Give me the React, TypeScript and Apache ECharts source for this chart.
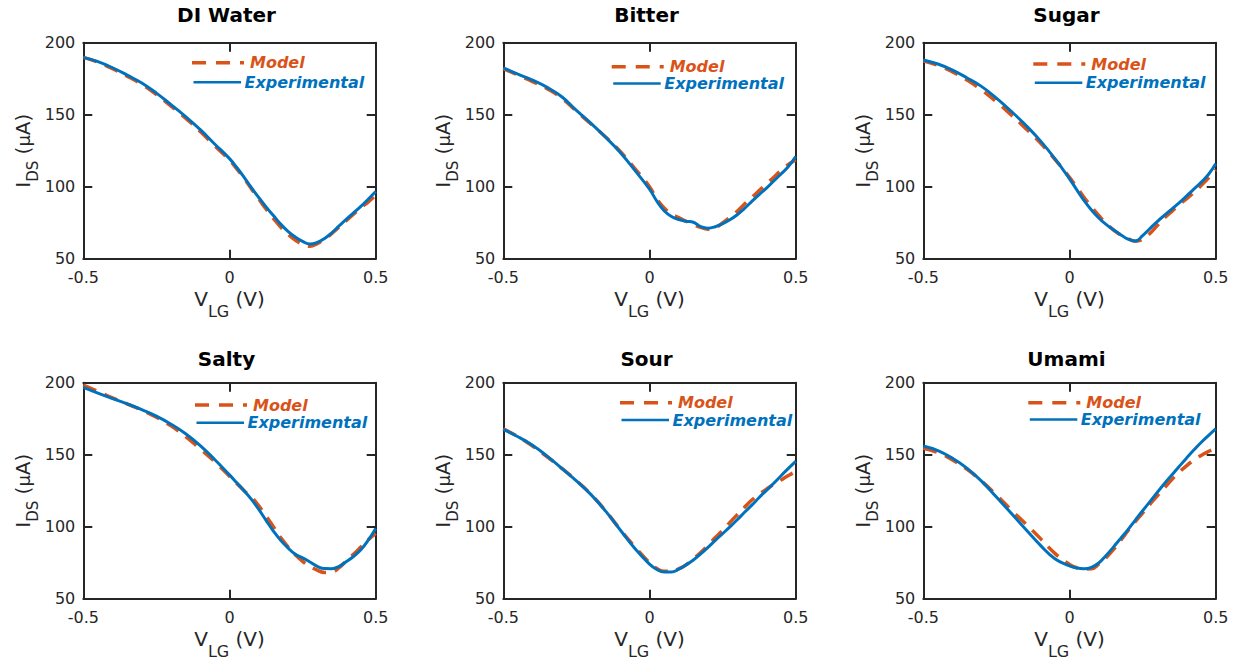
import React, { useEffect, useRef } from 'react';
import * as echarts from 'echarts';

// ---- data ----
const vlg = [-0.5, -0.45, -0.4, -0.35, -0.3, -0.25, -0.2, -0.15, -0.1, -0.05, 0, 0.025, 0.05, 0.075, 0.1, 0.125, 0.15, 0.175, 0.2, 0.225, 0.25, 0.275, 0.3, 0.325, 0.35, 0.375, 0.4, 0.425, 0.45, 0.475, 0.5];

const panelTitles = ['DI Water', 'Bitter', 'Sugar', 'Salty', 'Sour', 'Umami'];

const modelDIWater = [189.8, 186.5, 182, 176.8, 171, 164, 156, 147.5, 138.3, 128.3, 118.5, 112.3, 105.8, 98.5, 91.5, 84.5, 78, 72, 67, 63, 59.8, 58.6, 60.5, 63.5, 67.5, 72, 76.5, 81, 85.5, 89.5, 94];
const expDIWater = [189.8, 186.8, 182.6, 177.5, 172, 165, 157, 148.7, 139.6, 129.5, 119.5, 113.3, 106.5, 99.3, 92.5, 86, 80, 74, 69, 65, 62, 60.2, 61.3, 64, 68, 72.8, 77.5, 82, 86.5, 91.5, 96.7];

const modelBitter = [182, 177.5, 173, 168, 161.5, 152.5, 143.5, 134.5, 124.5, 112.5, 100, 91.5, 85.2, 81, 78.5, 76, 73.8, 71.8, 70.5, 71.5, 74.8, 78.8, 83, 88, 92.5, 97.3, 102, 106.5, 111.5, 115.5, 118.8];
const expBitter = [182.5, 178.2, 174, 169, 162.5, 153, 144, 134.3, 123.8, 111.3, 98.3, 90, 83.3, 79.3, 77.2, 76, 75.3, 72.3, 71.2, 72.2, 74.3, 77, 80.5, 85, 89.8, 94.5, 99, 104, 108.8, 114, 121];

const modelSugar = [187.5, 184.3, 179.7, 174, 167, 159, 150, 140.5, 130.5, 119, 106.5, 99.5, 92.5, 86, 80, 74.5, 70, 66.5, 64, 62.2, 63.5, 67.5, 73, 78.3, 82.8, 87.5, 91.5, 96, 100.8, 106, 111.9];
const expSugar = [188, 185.2, 181, 175.5, 169.5, 161.5, 152.5, 142.8, 132, 119.5, 105.5, 97.8, 90.3, 83.8, 78.3, 73.8, 70.1, 66.7, 63.6, 62.3, 66, 71, 75.8, 80.2, 84.5, 88.8, 93.5, 98.3, 103, 108.5, 116];

const modelSalty = [198.4, 194, 189.5, 185.3, 181, 176, 170, 162.5, 154, 145, 135, 130, 125, 120.5, 114.5, 107.5, 100, 92.5, 86, 80.5, 76, 72.5, 69.8, 68.2, 68.5, 71.5, 76.5, 81, 86, 91, 95.3];
const expSalty = [196.8, 192.8, 189, 185.3, 181.3, 176.8, 171.2, 164.6, 156.3, 146.5, 136, 130.5, 125, 119, 112, 104.4, 97, 90.5, 85.3, 80.8, 78.4, 75.5, 72.5, 70.9, 70.8, 72.5, 75.8, 79.5, 84.2, 90.8, 98.8];

const modelSour = [168, 162.5, 156, 148.5, 140.5, 132, 122.5, 111, 98, 86, 75, 71, 69, 69, 70.8, 73.5, 77.7, 82, 87, 92.5, 97.5, 103, 108.3, 113.5, 118.5, 122.5, 126, 129.5, 132.5, 135.5, 138.4];
const expSour = [167.6, 162.5, 156.5, 149, 140.5, 131.8, 122.3, 110.8, 97.7, 84.8, 74, 70.3, 68.5, 68.5, 70.5, 73.5, 76.9, 81.1, 85.7, 90.5, 95.2, 99.9, 104.8, 110, 115, 120.3, 125.2, 130.2, 135.4, 140.5, 145.4];

const modelUmami = [154.4, 151.5, 146.3, 139.8, 131.5, 122, 111.8, 102, 91.9, 81.5, 73.8, 71.5, 70.7, 70.8, 74, 78.5, 84, 90.5, 97.2, 103.5, 109.5, 115.5, 121.5, 127, 132.7, 137.8, 142.3, 146.2, 149.5, 152.2, 154.7];
const expUmami = [156, 152.8, 147.5, 140.5, 131.5, 120.6, 109.5, 98.2, 87.2, 77.8, 72.8, 71.3, 70.8, 71.8, 74.8, 80, 85.8, 91.9, 98, 104.6, 111.1, 117.4, 123.8, 130, 135.9, 141.8, 147.6, 153.2, 158.5, 163.3, 167.9];

const modelSeries = [modelDIWater, modelBitter, modelSugar, modelSalty, modelSour, modelUmami];
const expSeries = [expDIWater, expBitter, expSugar, expSalty, expSour, expUmami];

const xTicks = [-0.5, 0, 0.5];
const yTicks = [50, 100, 150, 200];
const legendNames = ['Model', 'Experimental'];

// ---- layout / style ----
const FONT = '"DejaVu Sans", "Liberation Sans", sans-serif';
const AXIS_COLOR = '#262626';
const MODEL_COLOR = '#D95319';
const EXP_COLOR = '#0072BD';
const GRID_LEFT = [83.3, 503.3, 923.3];
const GRID_TOP = [42.7, 382.7];
const GRID_W = 292.4;
const GRID_H = 216;
const TITLE_Y = [15, 359];
// [dashed line x start, dashed line y, offset to experimental row]
const LEGEND_POS = [
  [192, 62.7, 19.5],
  [611.7, 66.7, 16.8],
  [1033.3, 64, 18.7],
  [195, 405, 17.7],
  [620, 402.7, 17.3],
  [1028.3, 402.7, 16.8],
];

export default function App() {
  const ref = useRef<HTMLDivElement>(null);

  useEffect(() => {
    if (!ref.current) return;
    const chart = echarts.init(ref.current, null, { renderer: 'svg' });

    const grids: any[] = [];
    const xAxes: any[] = [];
    const yAxes: any[] = [];
    const series: any[] = [];
    const graphics: any[] = [];

    const axisLine = { show: true, onZero: false, lineStyle: { color: AXIS_COLOR, width: 2 } };
    const axisTick = { show: true, inside: true, length: 9, lineStyle: { color: AXIS_COLOR, width: 2 } };
    const xMin = xTicks[0];
    const xMax = xTicks[xTicks.length - 1];
    const xInt = xTicks[1] - xTicks[0];
    const yMin = yTicks[0];
    const yMax = yTicks[yTicks.length - 1];
    const yInt = yTicks[1] - yTicks[0];

    const xRich = {
      n: { fontSize: 20, fontFamily: FONT, color: AXIS_COLOR, lineHeight: 22, verticalAlign: 'top' },
      s: { fontSize: 16, fontFamily: FONT, color: AXIS_COLOR, lineHeight: 22, verticalAlign: 'top', padding: [14.5, 0, 0, 0] },
    };
    const yRich = {
      n: { fontSize: 20, fontFamily: FONT, color: AXIS_COLOR, lineHeight: 22, verticalAlign: 'top' },
      m: { fontSize: 18, fontFamily: FONT, color: AXIS_COLOR, lineHeight: 22, verticalAlign: 'top', padding: [1.5, 0, 0, 0] },
      s: { fontSize: 15, fontFamily: FONT, color: AXIS_COLOR, lineHeight: 22, verticalAlign: 'top', padding: [12.4, 0, 0, 0] },
    };

    panelTitles.forEach((title, i) => {
      const col = i % 3;
      const row = Math.floor(i / 3);
      const left = GRID_LEFT[col];
      const top = GRID_TOP[row];
      grids.push({ left, top, width: GRID_W, height: GRID_H, containLabel: false });

      xAxes.push({
        type: 'value', gridIndex: i, position: 'bottom', min: xMin, max: xMax, interval: xInt,
        axisLine, axisTick, splitLine: { show: false },
        axisLabel: { show: true, fontSize: 16, fontFamily: FONT, color: AXIS_COLOR, margin: 11 },
        name: '{n|V}{s|LG}{n| (V)}', nameLocation: 'middle', nameGap: 30.5,
        nameTextStyle: { rich: xRich },
      });
      xAxes.push({
        type: 'value', gridIndex: i, position: 'top', min: xMin, max: xMax, interval: xInt,
        axisLine, axisTick, splitLine: { show: false }, axisLabel: { show: false },
      });
      yAxes.push({
        type: 'value', gridIndex: i, position: 'left', min: yMin, max: yMax, interval: yInt,
        axisLine, axisTick, splitLine: { show: false },
        axisLabel: { show: true, fontSize: 16, fontFamily: FONT, color: AXIS_COLOR, margin: 8 },
        name: '{n|I}{s|DS}{n| (}{m|μ}{n|A)}', nameLocation: 'middle', nameGap: 39,
        nameTextStyle: { rich: yRich },
      });
      yAxes.push({
        type: 'value', gridIndex: i, position: 'right', min: yMin, max: yMax, interval: yInt,
        axisLine, axisTick, splitLine: { show: false }, axisLabel: { show: false },
      });

      series.push({
        type: 'line', name: legendNames[0], xAxisIndex: 2 * i, yAxisIndex: 2 * i,
        data: vlg.map((v, k) => [v, modelSeries[i][k]]),
        symbol: 'none', showSymbol: false, smooth: 0.45, z: 3,
        lineStyle: { color: MODEL_COLOR, width: 3.5, type: [14, 9] },
        itemStyle: { color: MODEL_COLOR },
      });
      series.push({
        type: 'line', name: legendNames[1], xAxisIndex: 2 * i, yAxisIndex: 2 * i,
        data: vlg.map((v, k) => [v, expSeries[i][k]]),
        symbol: 'none', showSymbol: false, smooth: 0.45, z: 4,
        lineStyle: { color: EXP_COLOR, width: 3, type: 'solid' },
        itemStyle: { color: EXP_COLOR },
      });

      // title
      graphics.push({
        type: 'text', x: left + GRID_W / 2 - 3, y: TITLE_Y[row],
        style: { text: title, fontFamily: FONT, fontSize: 20, fontWeight: 'bold', fill: '#000', align: 'center', verticalAlign: 'middle' },
      });
      // legend
      const [lx, ly, dy] = LEGEND_POS[i];
      graphics.push({
        type: 'line', shape: { x1: lx, y1: ly, x2: lx + 52, y2: ly },
        style: { stroke: MODEL_COLOR, lineWidth: 3.5, lineDash: [14, 10] },
      });
      graphics.push({
        type: 'text', x: lx + 58, y: ly,
        style: { text: legendNames[0], fontFamily: FONT, fontSize: 16, fontWeight: 'bold', fontStyle: 'italic', fill: MODEL_COLOR, align: 'left', verticalAlign: 'middle' },
      });
      graphics.push({
        type: 'line', shape: { x1: lx + 1.5, y1: ly + dy, x2: lx + 49, y2: ly + dy },
        style: { stroke: EXP_COLOR, lineWidth: 2.5 },
      });
      graphics.push({
        type: 'text', x: lx + 52.5, y: ly + dy,
        style: { text: legendNames[1], fontFamily: FONT, fontSize: 16, fontWeight: 'bold', fontStyle: 'italic', fill: EXP_COLOR, align: 'left', verticalAlign: 'middle' },
      });
    });

    chart.setOption({
      animation: false,
      backgroundColor: '#ffffff',
      textStyle: { fontFamily: FONT },
      grid: grids,
      xAxis: xAxes,
      yAxis: yAxes,
      series,
      graphic: { elements: graphics },
    });

    return () => {
      chart.dispose();
    };
  }, []);

  return (
    <div
      ref={ref}
      style={{ position: 'absolute', left: 0, top: 0, width: 1237, height: 671, background: '#fff' }}
    />
  );
}
